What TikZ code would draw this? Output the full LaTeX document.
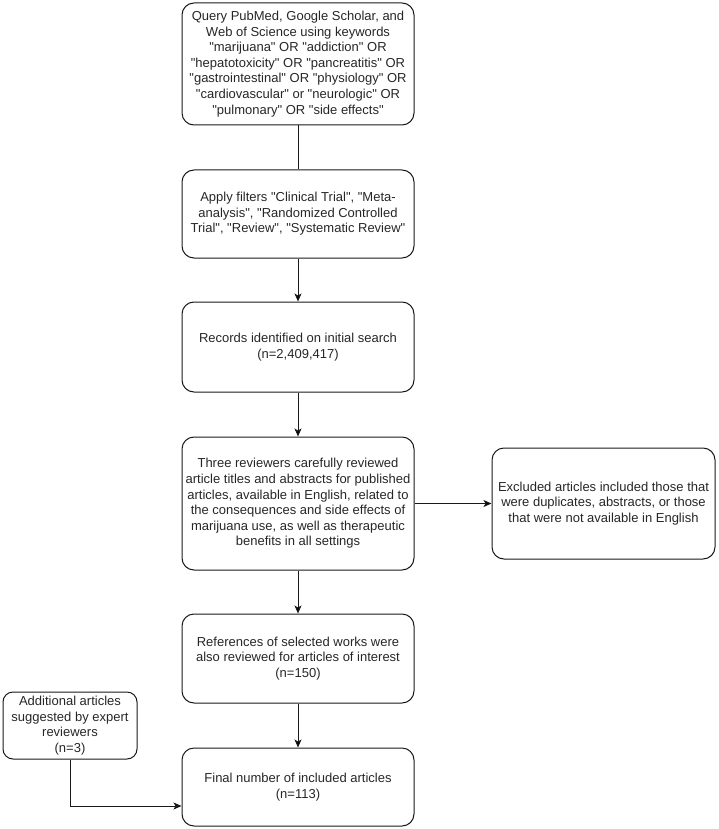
\documentclass[tikz,border=0pt]{standalone}
\usepackage{fontspec}
\setmainfont{Liberation Sans}[Ligatures=TeXOff]
\usetikzlibrary{arrows.meta}

\begin{document}
\begin{tikzpicture}[x=1pt, y=-1pt,
  box/.style={draw=black!90, rounded corners=12pt, line width=1pt, align=center,
    minimum width=232pt, inner sep=1pt, text=black!85,
    font=\fontsize{13}{15.6}\selectfont},
  >={Stealth[length=8pt, width=7pt, inset=2pt]}]
  \useasboundingbox (0,0) rectangle (718,829);
  \node[box, minimum height=122pt] (query) at (298,64)
    {Query PubMed, Google Scholar, and\\Web of Science using keywords\\
     "marijuana" OR "addiction" OR\\"hepatotoxicity" OR "pancreatitis" OR\\
     "gastrointestinal" OR "physiology" OR\\"cardiovascular" or "neurologic" OR\\
     "pulmonary" OR "side effects"};
  \node[box, minimum height=88pt] (filter) at (298,214)
    {Apply filters "Clinical Trial", "Meta-\\analysis", "Randomized Controlled\\
     Trial", "Review", "Systematic Review"};
  \node[box, minimum height=90pt] (records) at (298,347)
    {Records identified on initial search\\(n=2,409,417)};
  \node[box, minimum height=133pt] (screen) at (298,503.5)
    {Three reviewers carefully reviewed\\article titles and abstracts for published\\
     articles, available in English, related to\\the consequences and side effects of\\
     marijuana use, as well as therapeutic\\benefits in all settings};
  \node[box, minimum width=223pt, minimum height=111pt] (excluded) at (603.5,503.5)
    {Excluded articles included those that\\were duplicates, abstracts, or those\\
     that were not available in English};
  \node[box, minimum height=89pt] (refs) at (298,658.5)
    {References of selected works were\\also reviewed for articles of interest\\(n=150)};
  \node[box, minimum width=134pt, minimum height=67pt, rounded corners=10pt] (expert) at (70,725.5)
    {Additional articles\\suggested by expert\\reviewers\\(n=3)};
  \node[box, minimum height=78pt] (final) at (298,787)
    {Final number of included articles\\(n=113)};

  \path[draw=black!90, line width=1pt]
  (query) edge (filter);
  \path[->, draw=black!90, line width=1pt]
  (filter) edge (records)
  (records) edge (screen)
  (screen) edge (excluded)
  (screen) edge (refs)
  (refs) edge (final)
;
  \draw[->, draw=black!90, line width=1pt] (expert) |- ([yshift=-19pt]final.west);
\end{tikzpicture}
\end{document}
